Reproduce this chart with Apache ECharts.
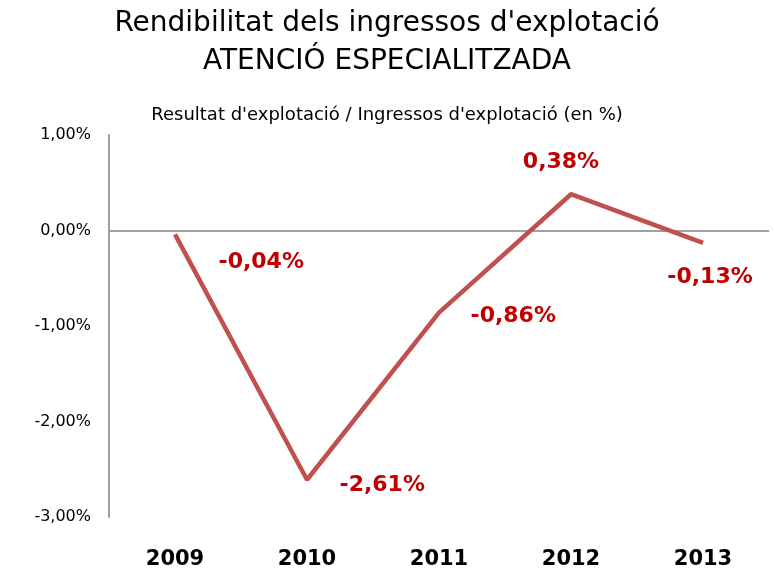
<!DOCTYPE html>
<html lang="ca">
<head>
	<meta charset="UTF-8">
	<title>Rendibilitat dels ingressos d'explotació</title>
	<script src="https://cdn.jsdelivr.net/npm/echarts@6/dist/echarts.min.js"></script>
</head>
<body style="margin:0">
	<div id="main" style="width: 774px;height:571px;"></div>
	<script type="text/javascript">
		var myChart = echarts.init(document.getElementById('main'));

		// dades
		var years = ['2009', '2010', '2011', '2012', '2013'];
		var rendibilitat = [-0.04, -2.61, -0.86, 0.38, -0.13];
		var labelPos = ['right', 'right', 'right', 'top', 'bottom'];
		var labelOffset = [[38, 28], [27, 6], [26, 4], [-10, -15], [7, 18]];

		function pct(v) {
			return v.toFixed(2).replace('.', ',') + '%';
		}

		var points = rendibilitat.map(function (v, i) {
			return {
				value: v,
				label: { position: labelPos[i], offset: labelOffset[i] }
			};
		});

		var option = {
			backgroundColor: '#fff',
			title: [{
				text: "Rendibilitat dels ingressos d'explotació\nATENCIÓ ESPECIALITZADA",
				left: 'center',
				top: 0,
				textStyle: {
					fontFamily: 'DejaVu Sans',
					fontWeight: 'normal',
					fontSize: 28,
					lineHeight: 38,
					color: '#000'
				}
			}, {
				text: "Resultat d'explotació / Ingressos d'explotació (en %)",
				left: 'center',
				top: 101,
				textStyle: {
					fontFamily: 'DejaVu Sans',
					fontWeight: 'normal',
					fontSize: 18,
					color: '#000'
				}
			}],
			grid: {
				left: 109,
				right: 5,
				top: 135,
				bottom: 54
			},
			xAxis: {
				type: 'category',
				data: years,
				boundaryGap: true,
				axisLine: { show: false },
				axisTick: { show: false },
				axisLabel: {
					margin: 32,
					fontFamily: 'DejaVu Sans',
					fontWeight: 'bold',
					fontSize: 21,
					color: '#000'
				}
			},
			yAxis: {
				type: 'value',
				min: -3,
				max: 1,
				interval: 1,
				axisLine: { show: true, lineStyle: { color: '#a0a0a0', width: 2 } },
				axisTick: { show: false },
				splitLine: { show: false },
				axisLabel: {
					margin: 18,
					fontFamily: 'DejaVu Sans',
					fontSize: 16,
					color: '#000',
					formatter: function (v) { return pct(v); }
				}
			},
			series: [{
				type: 'line',
				data: points,
				symbol: 'circle',
				symbolSize: 1,
				showSymbol: true,
				itemStyle: { color: 'rgba(0,0,0,0)' },
				lineStyle: { color: '#c0504d', width: 4.5 },
				label: {
					show: true,
					fontFamily: 'DejaVu Sans',
					fontWeight: 'bold',
					fontSize: 22,
					color: '#c00000',
					formatter: function (p) { return pct(p.value); }
				},
				markLine: {
					silent: true,
					symbol: 'none',
					label: { show: false },
					lineStyle: { color: '#a0a0a0', width: 2, type: 'solid' },
					data: [{ yAxis: 0 }],
					z: 1
				},
				z: 3
			}]
		};

		myChart.setOption(option);
	</script>
</body>
</html>
